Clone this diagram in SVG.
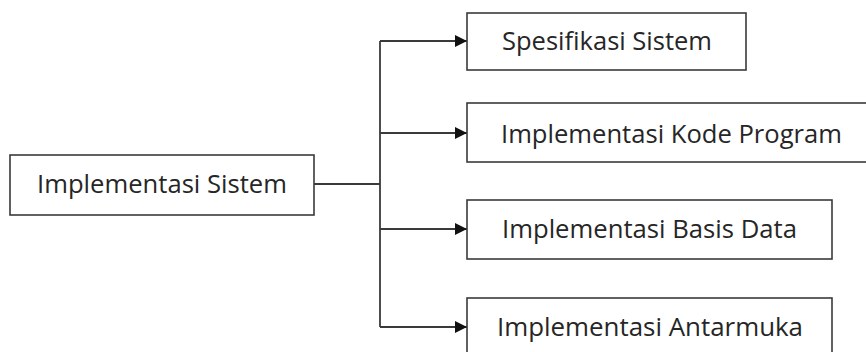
<svg xmlns="http://www.w3.org/2000/svg" width="866" height="352" viewBox="0 0 866 352">
  <style>
    .box { fill: #ffffff; stroke: #3a3a3a; stroke-width: 1.6; }
    .lbl { font-family: "Open Sans", "Liberation Sans", sans-serif; font-size: 26px; fill: #262626; }
    .wire { fill: none; stroke: #3a3a3a; stroke-width: 1.8; }
  </style>
  <defs>
    <marker id="arrow" viewBox="0 0 10 10" refX="10" refY="5" markerWidth="16" markerHeight="12" markerUnits="userSpaceOnUse" orient="auto">
      <path d="M0,0 L10,5 L0,10 Z" fill="#111111"/>
    </marker>
  </defs>

  <g id="connectors">
    <path class="wire" d="M314,184 H380"/>
    <path class="wire" d="M380,41 V327"/>
    <path class="wire" d="M380,41 H467" marker-end="url(#arrow)"/>
    <path class="wire" d="M380,133 H467" marker-end="url(#arrow)"/>
    <path class="wire" d="M380,229 H467" marker-end="url(#arrow)"/>
    <path class="wire" d="M380,327 H467" marker-end="url(#arrow)"/>
  </g>

  <g id="implementasi-sistem">
    <rect class="box" x="10" y="155" width="304" height="60"/>
    <text class="lbl" x="37" y="193" textLength="250" lengthAdjust="spacingAndGlyphs">Implementasi Sistem</text>
  </g>

  <g id="spesifikasi-sistem">
    <rect class="box" x="467" y="13" width="279" height="57"/>
    <text class="lbl" x="502" y="50" textLength="210" lengthAdjust="spacingAndGlyphs">Spesifikasi Sistem</text>
  </g>

  <g id="kode-program">
    <rect class="box" x="467" y="103" width="410" height="59"/>
    <text class="lbl" x="501" y="143" textLength="341" lengthAdjust="spacingAndGlyphs">Implementasi Kode Program</text>
  </g>

  <g id="basis-data">
    <rect class="box" x="467" y="200" width="365" height="59"/>
    <text class="lbl" x="502" y="238" textLength="295" lengthAdjust="spacingAndGlyphs">Implementasi Basis Data</text>
  </g>

  <g id="antarmuka">
    <rect class="box" x="467" y="298" width="365" height="70"/>
    <text class="lbl" x="497" y="336" textLength="306" lengthAdjust="spacingAndGlyphs">Implementasi Antarmuka</text>
  </g>
</svg>
